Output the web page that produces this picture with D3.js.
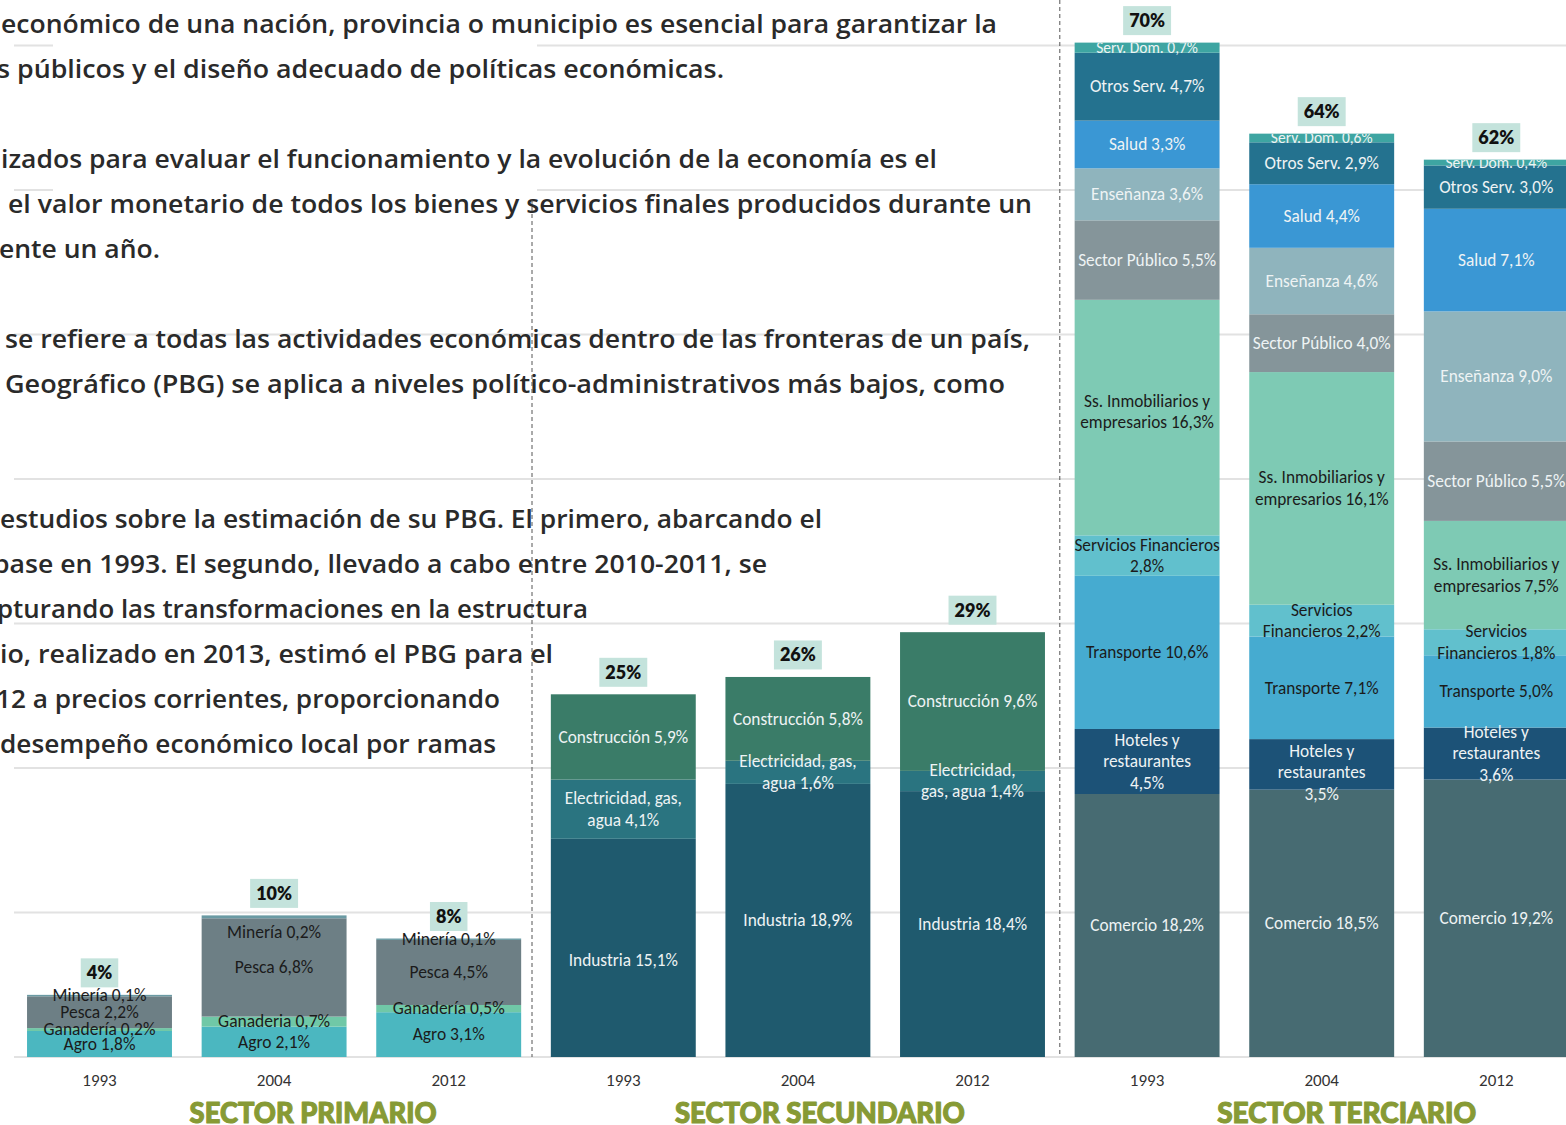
<!DOCTYPE html>
<html><head><meta charset="utf-8">
<script src="https://cdn.jsdelivr.net/npm/d3@7"></script>
<style>body{margin:0;background:#fff;overflow:hidden} svg{display:block}</style>
</head><body>
<script>
// ---------------- DATA ----------------
const years = ["1993", "2004", "2012"];
const sectors = ["SECTOR PRIMARIO", "SECTOR SECUNDARIO", "SECTOR TERCIARIO"];

const primarioCats = ["Agro", "Ganaderia", "Pesca", "Mineria"];
const secundarioCats = ["Industria", "Electricidad", "Construccion"];
const terciarioCats = ["Comercio", "Hoteles", "Transporte", "ServFin", "SsInmob", "SectorPublico", "Ensenanza", "Salud", "OtrosServ", "ServDom"];

const primario1993 = [1.8, 0.2, 2.2, 0.1];
const primario2004 = [2.1, 0.7, 6.8, 0.2];
const primario2012 = [3.1, 0.5, 4.5, 0.1];
const secundario1993 = [15.1, 4.1, 5.9];
const secundario2004 = [18.9, 1.6, 5.8];
const secundario2012 = [18.4, 1.4, 9.6];
const terciario1993 = [18.2, 4.5, 10.6, 2.8, 16.3, 5.5, 3.6, 3.3, 4.7, 0.7];
const terciario2004 = [18.5, 3.5, 7.1, 2.2, 16.1, 4.0, 4.6, 4.4, 2.9, 0.6];
const terciario2012 = [19.2, 3.6, 5.0, 1.8, 7.5, 5.5, 9.0, 7.1, 3.0, 0.4];

const totalLabels = ["4%", "10%", "8%", "25%", "26%", "29%", "70%", "64%", "62%"];

const primarioLabels = ["Agro #", "Ganadería #", "Pesca #", "Minería #"];
const primarioLabels2004 = ["Agro #", "Ganaderia #", "Pesca #", "Minería #"];
const secundarioLabels = ["Industria #", "Electricidad, gas,|agua #", "Construcción #"];
const secundarioLabels2012 = ["Industria #", "Electricidad,|gas, agua #", "Construcción #"];
const terciarioLabels1993 = ["Comercio #", "Hoteles y|restaurantes|#", "Transporte #", "Servicios Financieros|#", "Ss. Inmobiliarios  y|empresarios #", "Sector Público #", "Enseñanza #", "Salud #", "Otros Serv. #", "Serv. Dom. #"];
const terciarioLabels = ["Comercio #", "Hoteles y|restaurantes|#", "Transporte #", "Servicios|Financieros #", "Ss. Inmobiliarios  y|empresarios #", "Sector Público #", "Enseñanza #", "Salud #", "Otros Serv. #", "Serv. Dom. #"];

const paragraphLines = [
  "económico de una nación, provincia o municipio es esencial para garantizar la",
  "s públicos y el diseño adecuado de políticas económicas.",
  "izados para evaluar el funcionamiento y la evolución de la economía es el",
  "el valor monetario de todos los bienes y servicios finales producidos durante un",
  "ente un año.",
  "se refiere a todas las actividades económicas dentro de las fronteras de un país,",
  "Geográfico (PBG) se aplica a niveles político-administrativos más bajos, como",
  "estudios sobre la estimación de su PBG. El primero, abarcando el",
  "base en 1993. El segundo, llevado a cabo entre 2010-2011, se",
  "pturando las transformaciones en la estructura",
  "io, realizado en 2013, estimó el PBG para el",
  "12 a precios corrientes, proporcionando",
  "desempeño económico local por ramas"
];

// ---------------- LAYOUT / STYLE ----------------
const W = 1566, H = 1125;
// [x start, x end, line index]
const paragraphLayout = [
  [1, 997, 0], [-3, 724, 1], [1, 937, 3], [8, 1032, 4], [-1, 160, 5],
  [5, 1030, 7], [5, 1005, 8], [0, 822, 11], [-7, 767, 12], [-3, 588, 13],
  [0, 553, 14], [-4, 500, 15], [0, 496, 16]
];

const colors = {
  Agro: "#4bb7c0", Ganaderia: "#70c8a7", Pesca: "#6d7f85", Mineria: "#6a9aa3",
  Industria: "#1f5a6e", Electricidad: "#2a7480", Construccion: "#3a7c68",
  Comercio: "#476b72", Hoteles: "#1c5277", Transporte: "#46abd0", ServFin: "#61c0cd",
  SsInmob: "#7ecab4", SectorPublico: "#85959a", Ensenanza: "#8fb4bd", Salud: "#3a97d4",
  OtrosServ: "#24728f", ServDom: "#3ea5a2"
};
const LIGHT = "#eef3f4", DARK = "#1b1b1b";
const labelColors = {
  Agro: DARK, Ganaderia: DARK, Pesca: DARK, Mineria: DARK,
  Industria: LIGHT, Electricidad: LIGHT, Construccion: LIGHT,
  Comercio: LIGHT, Hoteles: LIGHT, Transporte: DARK, ServFin: DARK, SsInmob: DARK,
  SectorPublico: LIGHT, Ensenanza: LIGHT, Salud: LIGHT, OtrosServ: LIGHT, ServDom: LIGHT
};
const labelNudge = { "0-1-Mineria": 15, "2-1-Hoteles": 8, "2-0-SsInmob": -6, "1-0-Industria": 12 };
const titleShift = [39, 22, 25];
const titleWidth = [247, 290, 259];

// ---------------- BUILD BARS ----------------
const fmt = v => d3.format(".1f")(v).replace(".", ",") + "%";
const groups = [
  { cats: primarioCats, vals: [primario1993, primario2004, primario2012], labels: [primarioLabels, primarioLabels2004, primarioLabels] },
  { cats: secundarioCats, vals: [secundario1993, secundario2004, secundario2012], labels: [secundarioLabels, secundarioLabels, secundarioLabels2012] },
  { cats: terciarioCats, vals: [terciario1993, terciario2004, terciario2012], labels: [terciarioLabels1993, terciarioLabels, terciarioLabels] }
];
const bars = [];
groups.forEach((g, si) => {
  years.forEach((yr, yi) => {
    let acc = 0;
    const segs = g.vals[yi].map((v, ci) => {
      const s = { cat: g.cats[ci], v, y0: acc, y1: acc + v, label: g.labels[yi][ci].replace("#", fmt(v)) };
      acc += v;
      return s;
    });
    bars.push({ id: si + "-" + yi, si, yi, year: yr, segs, total: acc, totalLabel: totalLabels[si * 3 + yi] });
  });
});

const x = d3.scaleBand().domain(bars.map(b => b.id)).range([12.2, 1583.6]).paddingInner(0.17).paddingOuter(0.085);
const y = d3.scaleLinear().domain([0, 70]).range([1057, 1057 - 70 * 14.45]);

const svg = d3.select("body").append("svg").attr("width", W).attr("height", H);

// gridlines
svg.append("g").selectAll("line").data(d3.range(0, 71, 10)).join("line")
  .attr("x1", 14).attr("x2", W).attr("y1", d => y(d)).attr("y2", d => y(d))
  .attr("stroke", "#e2e2e2").attr("stroke-width", 1.8);
svg.append("rect").attr("x", 53).attr("y", 40).attr("width", 484).attr("height", 160).attr("fill", "#fff");

// paragraph
svg.append("g").selectAll("text").data(paragraphLines).join("text")
  .attr("x", (d, i) => paragraphLayout[i][0])
  .attr("y", (d, i) => 33 + 45 * paragraphLayout[i][2])
  .attr("textLength", (d, i) => paragraphLayout[i][1] - paragraphLayout[i][0])
  .attr("lengthAdjust", "spacingAndGlyphs")
  .attr("font-family", "'Open Sans', sans-serif").attr("font-weight", 600).attr("font-size", 26)
  .attr("fill", "#2a2a2a").text(d => d);

// dashed separators
const sepX1 = (x("0-2") + x.bandwidth() + x("1-0")) / 2 - 4;
const sepX2 = (x("1-2") + x.bandwidth() + x("2-0")) / 2;
[[sepX1, 200], [sepX2, 0]].forEach(([sx, top]) => {
  svg.append("line").attr("x1", sx).attr("x2", sx).attr("y1", top).attr("y2", y(0))
    .attr("stroke", "#555").attr("stroke-width", 1).attr("stroke-dasharray", "4,3");
});

// bars
const defs = svg.append("defs");
const barG = svg.append("g").selectAll("g").data(bars).join("g");
barG.each(function (b) {
  const g = d3.select(this);
  const bx = x(b.id), bw = x.bandwidth();
  defs.append("clipPath").attr("id", "clip" + b.id).append("rect")
    .attr("x", bx).attr("y", y(b.total)).attr("width", bw).attr("height", y(0) - y(b.total));
  g.selectAll("rect.seg").data(b.segs).join("rect").attr("class", "seg")
    .attr("x", bx).attr("width", bw)
    .attr("y", d => y(d.y1)).attr("height", d => y(d.y0) - y(d.y1))
    .attr("fill", d => colors[d.cat]);
  const lg = g.append("g");
  if (b.si === 2) lg.attr("clip-path", "url(#clip" + b.id + ")");
  b.segs.forEach(s => {
    const lines = s.label.split("|");
    const fs = b.si === 0 ? 17.5 : (s.cat === "ServDom" ? 15.5 : 17.3);
    const lh = 21.5;
    const cy = (y(s.y0) + y(s.y1)) / 2 + (labelNudge[b.si + "-" + b.yi + "-" + s.cat] || 0);
    const t = lg.append("text").attr("text-anchor", "middle")
      .attr("font-family", "Carlito, Lato, sans-serif").attr("font-size", fs)
      .attr("fill", labelColors[s.cat]);
    lines.forEach((ln, li) => {
      t.append("tspan").attr("x", bx + bw / 2)
        .attr("y", cy + (li - (lines.length - 1) / 2) * lh + fs * 0.33).text(ln);
    });
  });
  // total label box
  const ty = y(b.total) - 22;
  const box = g.append("rect").attr("fill", "#c4e3dc");
  const tt = g.append("text").attr("x", bx + bw / 2).attr("y", ty + 6.5).attr("text-anchor", "middle")
    .attr("font-family", "Lato, sans-serif").attr("font-weight", 800).attr("font-size", 18)
    .attr("fill", "#111").text(b.totalLabel);
  const tw = tt.node().getComputedTextLength() + 12;
  box.attr("x", bx + bw / 2 - tw / 2).attr("y", ty - 14.5).attr("width", tw).attr("height", 29);
  // year label
  g.append("text").attr("x", bx + bw / 2).attr("y", 1086).attr("text-anchor", "middle")
    .attr("font-family", "Carlito, Lato, sans-serif").attr("font-size", 17).attr("fill", "#333").text(b.year);
});

// sector titles
svg.append("g").selectAll("text").data(sectors).join("text")
  .attr("x", (d, i) => x(i + "-1") + x.bandwidth() / 2 + titleShift[i] - titleWidth[i] / 2)
  .attr("y", 1123)
  .attr("textLength", (d, i) => titleWidth[i]).attr("lengthAdjust", "spacingAndGlyphs")
  .attr("font-family", "Lato, sans-serif").attr("font-weight", 900).attr("font-size", 28)
  .attr("fill", "#879a35").attr("stroke", "#879a35").attr("stroke-width", 1.1)
  .attr("stroke-linejoin", "round").text(d => d);
</script>
</body></html>
